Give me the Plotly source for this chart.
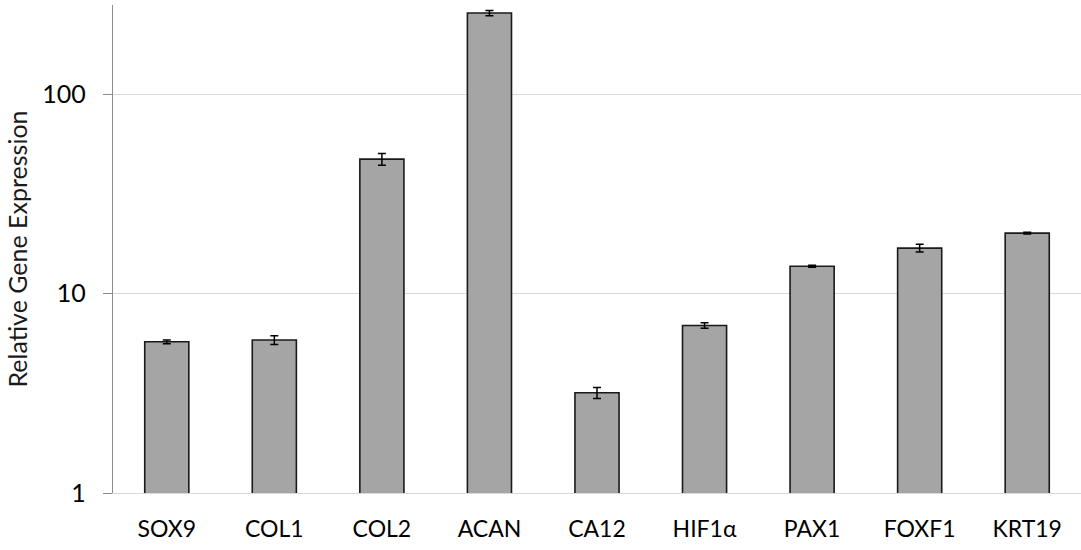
import plotly.graph_objects as go

genes = ["SOX9", "COL1", "COL2", "ACAN", "CA12", "HIF1α", "PAX1", "FOXF1", "KRT19"]
expression = [5.73, 5.85, 47.2, 255.0, 3.18, 6.92, 13.7, 16.9, 20.1]
errors = [0.12, 0.3, 3.2, 8.0, 0.2, 0.22, 0.15, 0.75, 0.2]
y_ticks = [1, 10, 100]
y_tick_labels = ["1", "10", "100"]

font_family = "Lato, 'Open Sans', sans-serif"

fig = go.Figure(
    go.Bar(
        x=genes,
        y=expression,
        marker=dict(color="#a5a5a5", line=dict(color="#1a1a1a", width=1.6)),
        error_y=dict(type="data", array=errors, visible=True,
                     color="#000000", thickness=1.5, width=4),
    )
)

fig.update_layout(
    width=1081, height=550,
    margin=dict(l=113, r=0, t=5, b=57),
    paper_bgcolor="white", plot_bgcolor="white",
    bargap=0.59,
    showlegend=False,
    font=dict(family=font_family, color="#000000"),
)

fig.update_yaxes(
    type="log",
    range=[0, 2.447],
    tickvals=y_ticks,
    ticktext=y_tick_labels,
    tickfont=dict(size=25, family=font_family, color="#000000"),
    showgrid=True, gridcolor="#d9d9d9", gridwidth=1.2,
    showline=True, linecolor="#8c8c8c", linewidth=1.3,
    ticks="outside", ticklen=9, tickcolor="#8c8c8c", tickwidth=1.3,
    ticklabelstandoff=12,
    zeroline=False,
    title=dict(text="Relative Gene Expression",
               font=dict(size=25, family=font_family, color="#1a1a1a"),
               standoff=7),
)

fig.update_xaxes(
    tickfont=dict(size=23, family=font_family, color="#000000"),
    showline=True, linecolor="#d9d9d9", linewidth=1.2,
    ticks="", ticklabelstandoff=15,
    showgrid=False,
)

fig.write_html("out.html")
